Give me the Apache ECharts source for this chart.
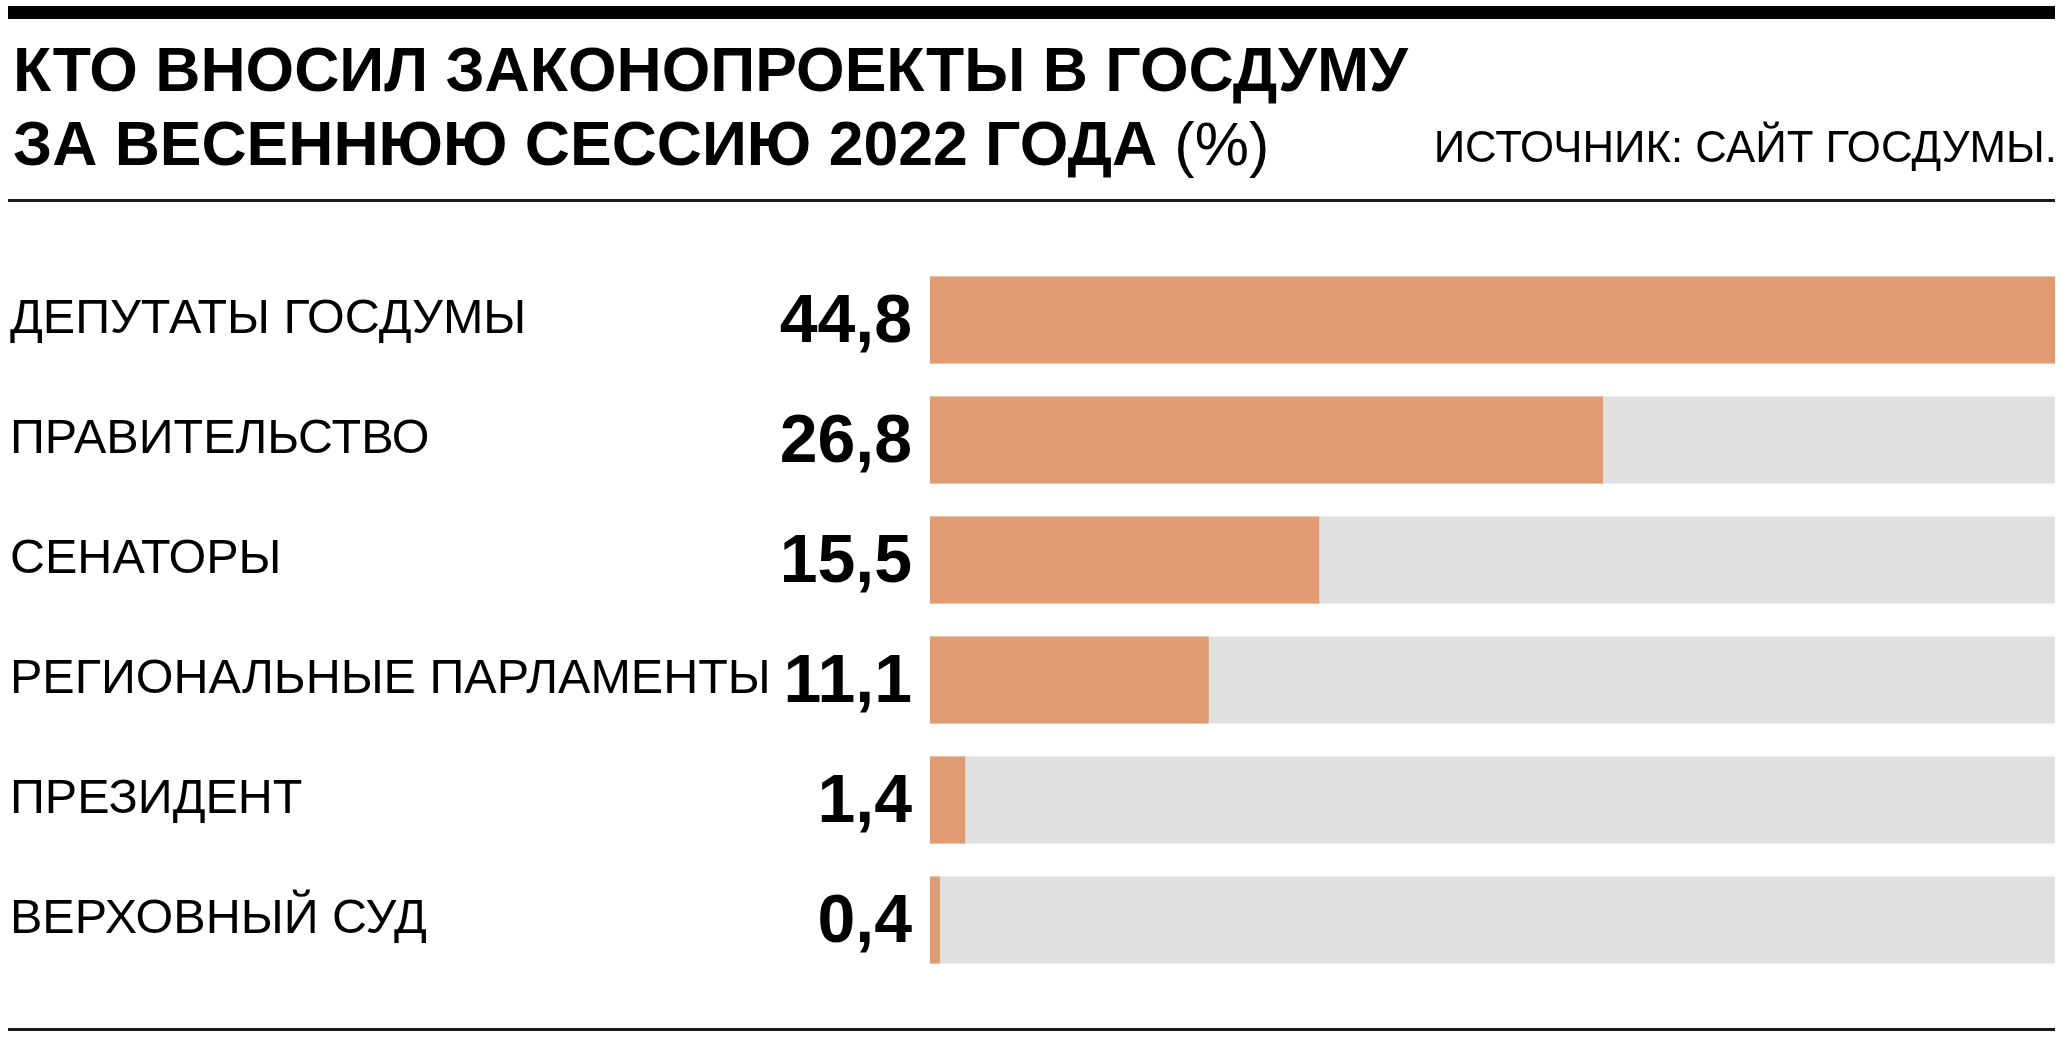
<!DOCTYPE html>
<html>
<head>
<meta charset="utf-8">
<script src="https://cdn.jsdelivr.net/npm/echarts@6/dist/echarts.min.js"></script>
<style>html,body{margin:0;padding:0;background:#fff}#c{width:2068px;height:1050px}</style>
</head>
<body>
<div id="c"></div>
<script>
const categories = ['ДЕПУТАТЫ ГОСДУМЫ', 'ПРАВИТЕЛЬСТВО', 'СЕНАТОРЫ', 'РЕГИОНАЛЬНЫЕ ПАРЛАМЕНТЫ', 'ПРЕЗИДЕНТ', 'ВЕРХОВНЫЙ СУД'];
const shares = [44.8, 26.8, 15.5, 11.1, 1.4, 0.4];
const titleLine1 = 'КТО ВНОСИЛ ЗАКОНОПРОЕКТЫ В ГОСДУМУ';
const titleLine2 = 'ЗА ВЕСЕННЮЮ СЕССИЮ 2022 ГОДА';
const unitText = '(%)';
const sourceText = 'ИСТОЧНИК: САЙТ ГОСДУМЫ.';

const FONT = '"Liberation Sans", Arial, Helvetica, sans-serif';
const chart = echarts.init(document.getElementById('c'), null, {renderer: 'canvas'});
chart.setOption({
  backgroundColor: '#ffffff',
  animation: false,
  title: [
    {
      text: titleLine1, left: 8, top: 38,
      textStyle: {fontFamily: FONT, fontWeight: 'bold', fontSize: 62.5, color: '#000', lineHeight: 62}
    },
    {
      text: '{b|' + titleLine2 + '} {r|' + unitText + '}', left: 8, top: 112,
      textStyle: {
        fontFamily: FONT, fontSize: 62, lineHeight: 62, color: '#000',
        rich: {
          b: {fontFamily: FONT, fontWeight: 'bold', fontSize: 62.5, color: '#000', lineHeight: 62},
          r: {fontFamily: FONT, fontWeight: 'normal', fontSize: 61, color: '#000', lineHeight: 62}
        }
      }
    },
    {
      text: sourceText, right: 6, top: 122,
      textStyle: {fontFamily: FONT, fontWeight: 'normal', fontSize: 43.8, color: '#000', lineHeight: 46}
    }
  ],
  graphic: [
    {type: 'rect', shape: {x: 8, y: 6, width: 2047, height: 13}, style: {fill: '#000'}},
    {type: 'rect', shape: {x: 8, y: 199, width: 2047, height: 3}, style: {fill: '#1a1a1a'}},
    {type: 'rect', shape: {x: 8, y: 1028, width: 2047, height: 3}, style: {fill: '#1a1a1a'}}
  ],
  grid: {left: 930, right: 13, top: 260, bottom: 70, containLabel: false},
  xAxis: {
    type: 'value', min: 0, max: 44.8, show: false
  },
  yAxis: {
    type: 'category', inverse: true, data: categories,
    axisLine: {show: false}, axisTick: {show: false}, splitLine: {show: false},
    axisLabel: {
      align: 'left', margin: 920, padding: [6, 0, 0, 0],
      fontFamily: FONT, fontSize: 48.5, color: '#000'
    }
  },
  series: [{
    type: 'bar',
    data: shares,
    barWidth: 87,
    itemStyle: {color: '#e09b73'},
    showBackground: true,
    backgroundStyle: {color: '#e0e0e0'},
    label: {
      show: true, position: 'left', distance: 18, offset: [0, 3],
      fontFamily: FONT, fontWeight: 'bold', fontSize: 68, color: '#000',
      formatter: p => String(p.value).replace('.', ',')
    }
  }]
});
</script>
</body>
</html>
